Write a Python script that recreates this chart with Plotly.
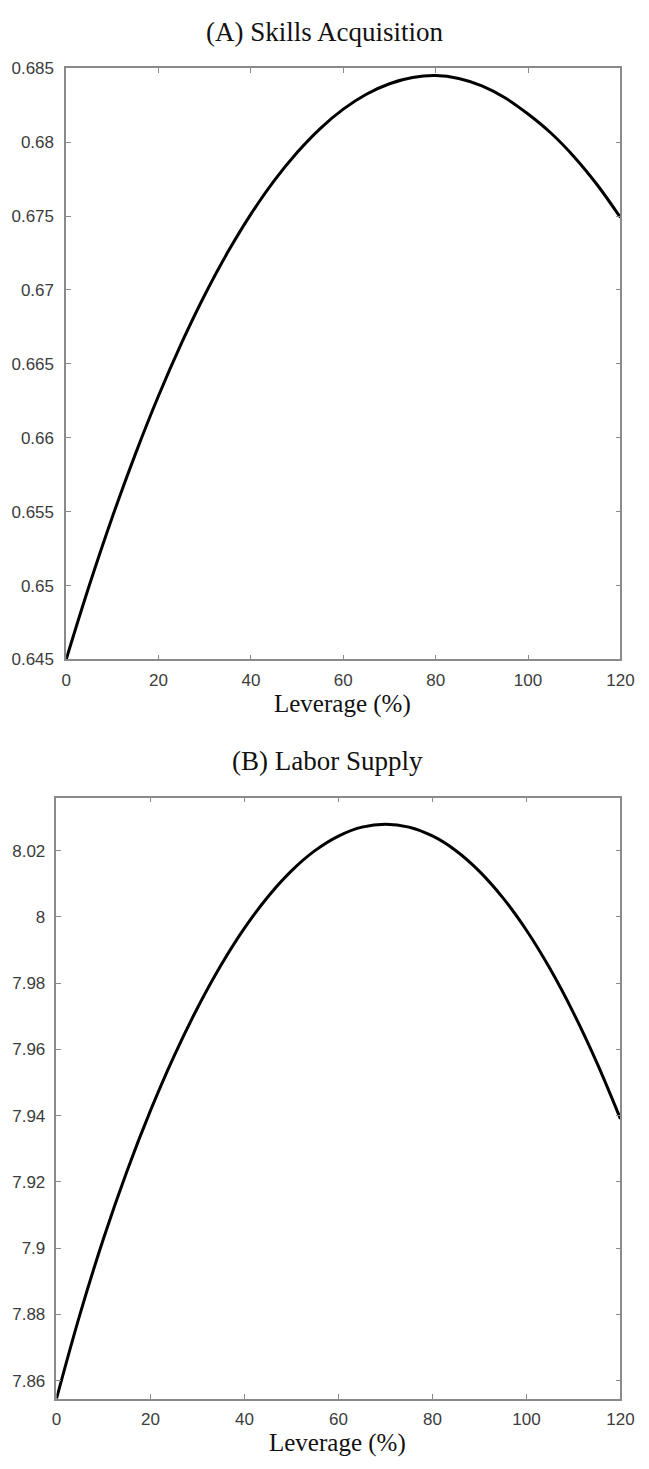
import plotly.graph_objects as go

# Leverage grid (%)
leverage = [0, 5, 10, 15, 20, 25, 30, 35, 40, 45, 50, 55, 60,
            65, 70, 75, 80, 85, 90, 95, 100, 105, 110, 115, 120]

# (A) Skills acquisition
skills = [0.64500, 0.65000, 0.65464, 0.65891, 0.66284, 0.66642, 0.66966,
          0.67256, 0.67513, 0.67738, 0.67930, 0.68092, 0.68223, 0.68324,
          0.68395, 0.68437, 0.68450, 0.68430, 0.68380, 0.68300, 0.68190,
          0.68060, 0.67900, 0.67710, 0.67490]

# (B) Labor supply
labor = [7.85450, 7.88000, 7.90280, 7.92320, 7.94150, 7.95790, 7.97250,
         7.98540, 7.99660, 8.00610, 8.01390, 8.02000, 8.02440, 8.02710,
         8.02800, 8.02711, 8.02444, 8.01999, 8.01376, 8.00575, 7.99596,
         7.98439, 7.97104, 7.95591, 7.93900]

x_ticks = [0, 20, 40, 60, 80, 100, 120]
skills_ticks = [0.645, 0.65, 0.655, 0.66, 0.665, 0.67, 0.675, 0.68, 0.685]
skills_labels = ["0.645", "0.65", "0.655", "0.66", "0.665", "0.67",
                 "0.675", "0.68", "0.685"]
labor_ticks = [7.86, 7.88, 7.9, 7.92, 7.94, 7.96, 7.98, 8.0, 8.02]
labor_labels = ["7.86", "7.88", "7.9", "7.92", "7.94", "7.96", "7.98",
                "8", "8.02"]

W, H = 649, 1469
AXIS_GREY = "#8a8a8a"
TICK_TEXT = "#3c3c3c"
SANS = "Liberation Sans, Arial, sans-serif"
SERIF = "Liberation Serif, Times New Roman, serif"

fig = go.Figure()
fig.add_trace(go.Scatter(x=leverage, y=skills, mode="lines",
                         line=dict(color="black", width=3, shape="spline"),
                         xaxis="x", yaxis="y", showlegend=False))
fig.add_trace(go.Scatter(x=leverage, y=labor, mode="lines",
                         line=dict(color="black", width=3, shape="spline"),
                         xaxis="x2", yaxis="y2", showlegend=False))

common = dict(showline=True, linecolor=AXIS_GREY, linewidth=1.5,
              mirror="ticks", ticks="inside", ticklen=5, tickwidth=1,
              tickcolor=AXIS_GREY, showgrid=False, zeroline=False,
              tickfont=dict(family=SANS, size=17, color=TICK_TEXT))


def px_x(v):
    return v / W


def px_y(v):
    return 1 - v / H


fig.update_layout(
    width=W, height=H,
    margin=dict(l=0, r=0, t=0, b=0),
    paper_bgcolor="white", plot_bgcolor="white",
    xaxis=dict(domain=[px_x(63), px_x(634)], range=[0, 120],
               tickvals=x_ticks, anchor="y", ticklabelstandoff=4, **common),
    yaxis=dict(domain=[px_y(659), px_y(60)], range=[0.645, 0.685],
               tickvals=skills_ticks, ticktext=skills_labels, anchor="x",
               ticklabelstandoff=7, **common),
    xaxis2=dict(domain=[px_x(53), px_x(634)], range=[0, 120],
                tickvals=x_ticks, anchor="y2", ticklabelstandoff=4, **common),
    yaxis2=dict(domain=[px_y(1408), px_y(799)], range=[7.8545, 8.036],
                tickvals=labor_ticks, ticktext=labor_labels, anchor="x2",
                ticklabelstandoff=6, **common),
)

# Panel titles and axis labels (text, centre x, centre y, size)
annotations = [
    ("(A) Skills Acquisition", 330, 23, 27),
    ("Leverage (%)", 348, 704, 25),
    ("(B) Labor Supply", 332, 762, 27),
    ("Leverage (%)", 343, 1453, 25),
]
for text, xc, yc, size in annotations:
    fig.add_annotation(text=text, x=px_x(xc), y=px_y(yc), xref="paper",
                       yref="paper", xanchor="center", yanchor="middle",
                       showarrow=False,
                       font=dict(family=SERIF, size=size, color="#111111"))

fig.write_html("out.html")
